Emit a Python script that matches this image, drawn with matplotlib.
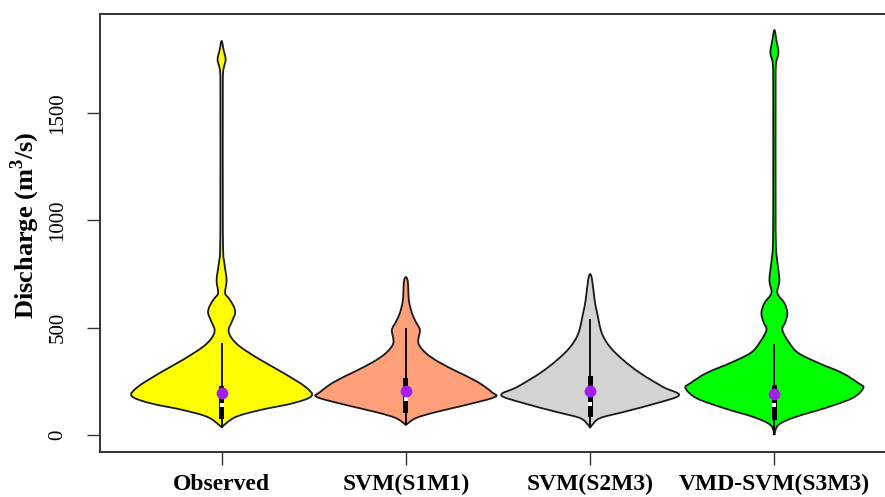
import numpy as np
import matplotlib
matplotlib.use("Agg")
import matplotlib.pyplot as plt
from matplotlib.path import Path
from matplotlib.patches import PathPatch, Rectangle

plt.rcParams['font.family'] = ['Liberation Serif', 'DejaVu Serif']
plt.rcParams['mathtext.fontset'] = 'custom'
plt.rcParams['mathtext.bf'] = 'Liberation Serif:bold'
plt.rcParams['mathtext.rm'] = 'Liberation Serif:bold'

# ---------------- data ----------------
categories = ["Observed", "SVM(S1M1)", "SVM(S2M3)", "VMD-SVM(S3M3)"]
fill_colors = ["#FFFF00", "#FFA07A", "#D3D3D3", "#00FF00"]

# violin outlines: discharge values and relative density (0..90 scale)
obs_vals = [37, 84, 117, 149, 182, 224, 289, 350, 410, 452, 489, 531, 569, 601, 638, 662, 722, 792, 862, 1095, 1561, 1692, 1748, 1794, 1836]
obs_dens = [0, 14, 39, 72, 90, 84, 62, 39, 19, 10, 7, 10.5, 13.5, 12, 7, 3.5, 5, 3, 1.5, 1.2, 1.2, 1.5, 4, 2, 0]

s1_vals = [47, 79, 107, 140, 177, 200, 247, 294, 340, 382, 429, 489, 527, 569, 629, 713, 736]
s1_dens = [0, 10, 30, 60, 89, 86, 72, 52, 33, 20, 12.5, 14, 10, 6, 3, 2, 0]

s2_vals = [33, 47, 79, 107, 149, 186, 224, 289, 350, 410, 475, 569, 629, 722, 750]
s2_dens = [0, 2, 10, 33, 67, 89, 73, 50, 33, 20, 11.7, 7, 4.5, 2, 0]

vmd_vals = [0, 47, 84, 126, 172, 219, 242, 289, 336, 382, 429, 489, 527, 569, 615, 662, 722, 806, 885, 1095, 1561, 1724, 1780, 1841, 1887]
vmd_dens = [0, 4, 21, 51, 78, 89, 84, 68, 44, 24, 15, 8, 11, 13, 10, 3, 5, 3, 1.5, 1.2, 1.2, 1.5, 4, 2, 0]

# box statistics
whisker_low = [33, 47, 37, 0]
q1 = [75, 103, 84, 70]
medians = [140, 168, 144, 140]
q3 = [228, 266, 275, 233]
whisker_high = [429, 499, 541, 424]
means = [196, 205, 205, 191]

yticks = [0, 500, 1000, 1500]
ylabel = r"Discharge (m$^{\mathbf{3}}$/s)"

# ---------------- drawing ----------------
W, H = 885, 497
fig = plt.figure(figsize=(W / 100, H / 100), dpi=100)
ax = fig.add_axes([100 / W, 1 - 452 / H, 796 / W, 438 / H])
ax.set_xlim(0.34, 4.66)
ax.set_ylim(-79, 1962)


def smooth_path(pts):
    pts = np.asarray(pts, float)
    n = len(pts)
    verts = [pts[0]]
    codes = [Path.MOVETO]
    for i in range(n - 1):
        p0 = pts[max(i - 1, 0)]
        p1 = pts[i]
        p2 = pts[i + 1]
        p3 = pts[min(i + 2, n - 1)]
        c1 = p1 + (p2 - p0) / 6.0
        c2 = p2 - (p3 - p1) / 6.0
        verts += [c1, c2, p2]
        codes += [Path.CURVE4] * 3
    verts.append(pts[0])
    codes.append(Path.CLOSEPOLY)
    return Path(verts, codes)


profiles = [(obs_vals, obs_dens), (s1_vals, s1_dens), (s2_vals, s2_dens), (vmd_vals, vmd_dens)]
max_half = 0.488
box_half = 0.0135

for i, (vals, dens) in enumerate(profiles):
    pos = i + 1
    v = np.asarray(vals, float)
    d = np.asarray(dens, float) / 90.0 * max_half
    right = np.column_stack([pos + d, v])
    left = np.column_stack([pos - d[::-1], v[::-1]])[1:]
    pts = np.vstack([right, left])
    patch = PathPatch(smooth_path(pts), facecolor=fill_colors[i], edgecolor="#1a1a1a",
                      lw=1.3, zorder=2)
    ax.add_patch(patch)
    # whisker
    ax.plot([pos, pos], [whisker_low[i], whisker_high[i]], color="black", lw=1.3, zorder=3,
            solid_capstyle="butt")
    # box
    ax.add_patch(Rectangle((pos - box_half, q1[i]), 2 * box_half, q3[i] - q1[i],
                           facecolor="black", edgecolor="none", zorder=4))
    # median
    ax.plot([pos], [medians[i]], marker="s", color="white", markersize=3.2,
            markeredgewidth=0, zorder=5)
    # mean
    ax.plot([pos], [means[i]], marker="o", color="#A020F0", markersize=8.5,
            markeredgewidth=0, zorder=6)

ax.set_xticks(range(1, len(categories) + 1))
ax.set_xticklabels(categories, fontsize=17, fontweight="bold")
ax.set_yticks(yticks)
ax.set_yticklabels([str(t) for t in yticks], fontsize=15, rotation=90, va="center")
ax.tick_params(axis="both", length=9.5, width=1.0, color="#333333")
ax.tick_params(axis="y", pad=14)
ax.tick_params(axis="x", pad=6)
for s in ax.spines.values():
    s.set_linewidth(1.4)
    s.set_color("#333333")

fig.text(25 / W, 1 - 225 / H, ylabel, rotation=90, ha="center", va="center",
         fontsize=19, fontweight="bold")

fig.savefig("out.png", dpi=100)
